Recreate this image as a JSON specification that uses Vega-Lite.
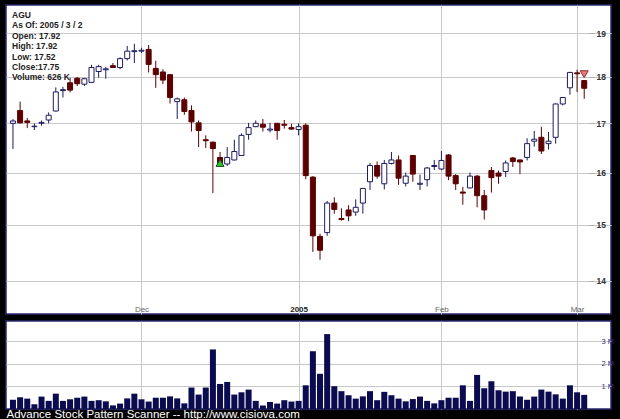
{
  "$schema": "https://vega.github.io/schema/vega-lite/v6.json",
  "background": "black",
  "padding": {"left": 5, "top": 4, "right": 12, "bottom": 6},
  "spacing": 5,
  "config": {
    "view": {"fill": "white", "stroke": "#28286e", "strokeWidth": 1.5},
    "font": "Liberation Sans"
  },
  "datasets": {
    "ohlc": [
      {"d": "2004-11-04", "i": 0, "o": 17.00, "h": 17.09, "l": 16.47, "c": 17.05, "v": 410000},
      {"d": "2004-11-05", "i": 1, "o": 17.27, "h": 17.46, "l": 17.00, "c": 17.01, "v": 520000},
      {"d": "2004-11-08", "i": 2, "o": 17.05, "h": 17.11, "l": 16.90, "c": 17.02, "v": 460000},
      {"d": "2004-11-09", "i": 3, "o": 16.93, "h": 17.00, "l": 16.86, "c": 16.94, "v": 210000},
      {"d": "2004-11-10", "i": 4, "o": 17.00, "h": 17.06, "l": 16.95, "c": 17.02, "v": 550000},
      {"d": "2004-11-11", "i": 5, "o": 17.07, "h": 17.23, "l": 17.00, "c": 17.17, "v": 360000},
      {"d": "2004-11-12", "i": 6, "o": 17.26, "h": 17.77, "l": 17.25, "c": 17.67, "v": 680000},
      {"d": "2004-11-15", "i": 7, "o": 17.70, "h": 17.78, "l": 17.55, "c": 17.72, "v": 360000},
      {"d": "2004-11-16", "i": 8, "o": 17.87, "h": 17.98, "l": 17.66, "c": 17.71, "v": 430000},
      {"d": "2004-11-17", "i": 9, "o": 17.97, "h": 18.00, "l": 17.80, "c": 17.85, "v": 500000},
      {"d": "2004-11-18", "i": 10, "o": 17.84, "h": 17.98, "l": 17.80, "c": 17.96, "v": 550000},
      {"d": "2004-11-19", "i": 11, "o": 17.88, "h": 18.27, "l": 17.87, "c": 18.21, "v": 360000},
      {"d": "2004-11-22", "i": 12, "o": 18.12, "h": 18.27, "l": 17.98, "c": 18.23, "v": 390000},
      {"d": "2004-11-23", "i": 13, "o": 18.16, "h": 18.22, "l": 17.96, "c": 18.18, "v": 340000},
      {"d": "2004-11-24", "i": 14, "o": 18.25, "h": 18.31, "l": 18.20, "c": 18.21, "v": 160000},
      {"d": "2004-11-26", "i": 15, "o": 18.21, "h": 18.44, "l": 18.17, "c": 18.41, "v": 240000},
      {"d": "2004-11-29", "i": 16, "o": 18.41, "h": 18.70, "l": 18.37, "c": 18.58, "v": 470000},
      {"d": "2004-11-30", "i": 17, "o": 18.57, "h": 18.75, "l": 18.31, "c": 18.59, "v": 680000},
      {"d": "2004-12-01", "i": 18, "o": 18.58, "h": 18.66, "l": 18.54, "c": 18.60, "v": 430000},
      {"d": "2004-12-02", "i": 19, "o": 18.62, "h": 18.72, "l": 18.10, "c": 18.28, "v": 330000},
      {"d": "2004-12-03", "i": 20, "o": 18.19, "h": 18.36, "l": 17.76, "c": 18.05, "v": 500000},
      {"d": "2004-12-06", "i": 21, "o": 18.11, "h": 18.17, "l": 17.84, "c": 17.93, "v": 500000},
      {"d": "2004-12-07", "i": 22, "o": 18.05, "h": 18.06, "l": 17.42, "c": 17.55, "v": 560000},
      {"d": "2004-12-08", "i": 23, "o": 17.46, "h": 17.55, "l": 17.09, "c": 17.52, "v": 470000},
      {"d": "2004-12-09", "i": 24, "o": 17.50, "h": 17.55, "l": 17.18, "c": 17.25, "v": 250000},
      {"d": "2004-12-10", "i": 25, "o": 17.27, "h": 17.38, "l": 16.83, "c": 17.03, "v": 950000},
      {"d": "2004-12-13", "i": 26, "o": 17.01, "h": 17.06, "l": 16.51, "c": 16.85, "v": 640000},
      {"d": "2004-12-14", "i": 27, "o": 16.66, "h": 16.75, "l": 16.49, "c": 16.64, "v": 950000},
      {"d": "2004-12-15", "i": 28, "o": 16.61, "h": 16.62, "l": 15.60, "c": 16.48, "v": 2640000},
      {"d": "2004-12-16", "i": 29, "o": 16.30, "h": 16.41, "l": 16.16, "c": 16.18, "v": 1110000},
      {"d": "2004-12-17", "i": 30, "o": 16.17, "h": 16.51, "l": 16.13, "c": 16.30, "v": 1200000},
      {"d": "2004-12-20", "i": 31, "o": 16.25, "h": 16.66, "l": 16.24, "c": 16.42, "v": 640000},
      {"d": "2004-12-21", "i": 32, "o": 16.34, "h": 16.79, "l": 16.33, "c": 16.75, "v": 740000},
      {"d": "2004-12-22", "i": 33, "o": 16.77, "h": 17.01, "l": 16.66, "c": 16.91, "v": 860000},
      {"d": "2004-12-23", "i": 34, "o": 16.93, "h": 17.06, "l": 16.92, "c": 17.00, "v": 360000},
      {"d": "2004-12-27", "i": 35, "o": 16.98, "h": 17.09, "l": 16.83, "c": 16.92, "v": 160000},
      {"d": "2004-12-28", "i": 36, "o": 16.86, "h": 17.01, "l": 16.81, "c": 16.88, "v": 310000},
      {"d": "2004-12-29", "i": 37, "o": 17.00, "h": 17.01, "l": 16.66, "c": 16.85, "v": 240000},
      {"d": "2004-12-30", "i": 38, "o": 16.98, "h": 17.07, "l": 16.89, "c": 16.96, "v": 390000},
      {"d": "2004-12-31", "i": 39, "o": 16.91, "h": 16.99, "l": 16.87, "c": 16.88, "v": 330000},
      {"d": "2005-01-03", "i": 40, "o": 16.87, "h": 17.00, "l": 16.75, "c": 16.93, "v": 360000},
      {"d": "2005-01-04", "i": 41, "o": 16.96, "h": 17.00, "l": 15.87, "c": 15.94, "v": 1050000},
      {"d": "2005-01-05", "i": 42, "o": 15.91, "h": 15.93, "l": 14.51, "c": 14.80, "v": 2560000},
      {"d": "2005-01-06", "i": 43, "o": 14.79, "h": 14.84, "l": 14.37, "c": 14.54, "v": 1560000},
      {"d": "2005-01-07", "i": 44, "o": 14.86, "h": 15.45, "l": 14.80, "c": 15.41, "v": 3320000},
      {"d": "2005-01-10", "i": 45, "o": 15.41, "h": 15.52, "l": 15.21, "c": 15.29, "v": 1010000},
      {"d": "2005-01-11", "i": 46, "o": 15.12, "h": 15.31, "l": 15.08, "c": 15.10, "v": 790000},
      {"d": "2005-01-12", "i": 47, "o": 15.28, "h": 15.37, "l": 15.07, "c": 15.17, "v": 610000},
      {"d": "2005-01-13", "i": 48, "o": 15.24, "h": 15.48, "l": 15.17, "c": 15.33, "v": 460000},
      {"d": "2005-01-14", "i": 49, "o": 15.41, "h": 15.70, "l": 15.21, "c": 15.69, "v": 560000},
      {"d": "2005-01-18", "i": 50, "o": 15.82, "h": 16.19, "l": 15.66, "c": 16.14, "v": 790000},
      {"d": "2005-01-19", "i": 51, "o": 16.14, "h": 16.22, "l": 15.88, "c": 15.93, "v": 390000},
      {"d": "2005-01-20", "i": 52, "o": 15.78, "h": 16.25, "l": 15.67, "c": 16.18, "v": 760000},
      {"d": "2005-01-21", "i": 53, "o": 16.18, "h": 16.41, "l": 16.16, "c": 16.25, "v": 610000},
      {"d": "2005-01-24", "i": 54, "o": 16.25, "h": 16.34, "l": 15.76, "c": 15.89, "v": 460000},
      {"d": "2005-01-25", "i": 55, "o": 15.79, "h": 16.00, "l": 15.73, "c": 15.93, "v": 340000},
      {"d": "2005-01-26", "i": 56, "o": 16.34, "h": 16.35, "l": 15.82, "c": 15.97, "v": 440000},
      {"d": "2005-01-27", "i": 57, "o": 15.77, "h": 15.96, "l": 15.66, "c": 15.79, "v": 550000},
      {"d": "2005-01-28", "i": 58, "o": 15.86, "h": 16.11, "l": 15.73, "c": 16.09, "v": 360000},
      {"d": "2005-01-31", "i": 59, "o": 16.12, "h": 16.25, "l": 16.05, "c": 16.14, "v": 250000},
      {"d": "2005-02-01", "i": 60, "o": 16.07, "h": 16.43, "l": 16.05, "c": 16.24, "v": 390000},
      {"d": "2005-02-02", "i": 61, "o": 16.35, "h": 16.37, "l": 15.85, "c": 15.93, "v": 500000},
      {"d": "2005-02-03", "i": 62, "o": 15.94, "h": 15.97, "l": 15.66, "c": 15.78, "v": 500000},
      {"d": "2005-02-04", "i": 63, "o": 15.62, "h": 15.72, "l": 15.38, "c": 15.60, "v": 1050000},
      {"d": "2005-02-07", "i": 64, "o": 15.70, "h": 16.00, "l": 15.69, "c": 15.93, "v": 360000},
      {"d": "2005-02-08", "i": 65, "o": 15.93, "h": 15.95, "l": 15.33, "c": 15.55, "v": 1510000},
      {"d": "2005-02-09", "i": 66, "o": 15.55, "h": 15.66, "l": 15.10, "c": 15.28, "v": 920000},
      {"d": "2005-02-10", "i": 67, "o": 16.04, "h": 16.11, "l": 15.61, "c": 15.90, "v": 1230000},
      {"d": "2005-02-11", "i": 68, "o": 15.99, "h": 16.04, "l": 15.78, "c": 15.93, "v": 830000},
      {"d": "2005-02-14", "i": 69, "o": 16.02, "h": 16.24, "l": 15.91, "c": 16.19, "v": 770000},
      {"d": "2005-02-15", "i": 70, "o": 16.29, "h": 16.31, "l": 16.11, "c": 16.22, "v": 790000},
      {"d": "2005-02-16", "i": 71, "o": 16.25, "h": 16.26, "l": 15.97, "c": 16.21, "v": 550000},
      {"d": "2005-02-17", "i": 72, "o": 16.30, "h": 16.69, "l": 16.24, "c": 16.58, "v": 410000},
      {"d": "2005-02-18", "i": 73, "o": 16.63, "h": 16.84, "l": 16.52, "c": 16.67, "v": 550000},
      {"d": "2005-02-22", "i": 74, "o": 16.71, "h": 16.93, "l": 16.37, "c": 16.43, "v": 860000},
      {"d": "2005-02-23", "i": 75, "o": 16.58, "h": 16.82, "l": 16.46, "c": 16.63, "v": 770000},
      {"d": "2005-02-24", "i": 76, "o": 16.71, "h": 17.42, "l": 16.58, "c": 17.41, "v": 650000},
      {"d": "2005-02-25", "i": 77, "o": 17.41, "h": 17.56, "l": 17.38, "c": 17.55, "v": 460000},
      {"d": "2005-02-28", "i": 78, "o": 17.76, "h": 18.11, "l": 17.61, "c": 18.10, "v": 1050000},
      {"d": "2005-03-01", "i": 79, "o": 18.09, "h": 18.16, "l": 17.67, "c": 18.07, "v": 740000},
      {"d": "2005-03-02", "i": 80, "o": 17.92, "h": 17.92, "l": 17.52, "c": 17.75, "v": 626000}
    ]
  },
  "vconcat": [
    {
      "width": 605,
      "height": 309,
      "title": {
        "text": ["AGU", "As Of: 2005 / 3 / 2", "Open: 17.92", "High: 17.92", "Low: 17.52", "Close:17.75", "Volume: 626 K"],
        "anchor": "start",
        "frame": "group",
        "orient": "top",
        "baseline": "top",
        "offset": -77,
        "dx": 6,
        "font": "Liberation Sans",
        "fontSize": 8.5,
        "fontWeight": "bold",
        "color": "#222222",
        "lineHeight": 10.45
      },
      "data": {"name": "ohlc"},
      "encoding": {
        "x": {
          "field": "i",
          "type": "quantitative",
          "scale": {"domain": [-0.2754, 83.05], "nice": false, "zero": false},
          "axis": {
            "values": [18, 40, 60, 79],
            "labelExpr": "datum.value == 18 ? 'Dec' : datum.value == 40 ? '2005' : datum.value == 60 ? 'Feb' : 'Mar'",
            "grid": true,
            "gridColor": "#c8c8c8",
            "domain": false,
            "ticks": false,
            "tickSize": 0,
            "labelPadding": 0,
            "labelBaseline": "alphabetic",
            "offset": -3,
            "labelFontSize": 8,
            "labelFont": "Liberation Sans",
            "labelColor": {"condition": {"test": "datum.value == 40", "value": "#222222"}, "value": "#666666"},
            "labelFontWeight": {"condition": {"test": "datum.value == 40", "value": "bold"}, "value": "normal"},
            "labelFlush": false,
            "labelOverlap": false,
            "title": null
          }
        },
        "y": {
          "field": "l",
          "type": "quantitative",
          "scale": {"type": "log", "domain": [13.442, 19.667], "nice": false, "zero": false},
          "axis": {
            "orient": "right",
            "values": [14, 15, 16, 17, 18, 19],
            "format": "d",
            "grid": true,
            "gridColor": "#c8c8c8",
            "domain": false,
            "ticks": true,
            "tickSize": 5,
            "tickColor": "#aaaaaa",
            "labelPadding": 2,
            "offset": -22,
            "labelFont": "Liberation Sans",
            "labelFontSize": 8.5,
            "labelFontWeight": "bold",
            "labelColor": "#333333",
            "labelFlush": false,
            "labelOverlap": false,
            "title": null
          }
        }
      },
      "layer": [
        {
          "mark": {"type": "rule", "strokeWidth": 1},
          "encoding": {
            "y2": {"field": "h"},
            "color": {"condition": {"test": "datum.c >= datum.o", "value": "#1c1c60"}, "value": "#5c0000"}
          }
        },
        {
          "mark": {"type": "bar", "size": 5, "strokeWidth": 1},
          "encoding": {
            "y": {"field": "o", "type": "quantitative", "title": null},
            "y2": {"field": "c"},
            "fill": {"condition": {"test": "datum.c >= datum.o", "value": "#ffffff"}, "value": "#5c0000"},
            "stroke": {"condition": {"test": "datum.c >= datum.o", "value": "#1c1c60"}, "value": "#5c0000"}
          }
        },
        {
          "data": {"values": [{"i": 29, "p": 16.19}]},
          "mark": {"type": "point", "shape": "triangle-up", "size": 64, "filled": true, "fill": "#2fc02f", "stroke": "#1a4d1a", "strokeWidth": 1, "opacity": 1},
          "encoding": {
            "y": {"field": "p", "type": "quantitative", "title": null}
          }
        },
        {
          "data": {"values": [{"i": 80, "p": 18.06}]},
          "mark": {"type": "point", "shape": "triangle-down", "size": 64, "filled": true, "fill": "#f07a7a", "stroke": "#8a2a2a", "strokeWidth": 1, "opacity": 1},
          "encoding": {
            "y": {"field": "p", "type": "quantitative", "title": null}
          }
        }
      ]
    },
    {
      "width": 605,
      "height": 88,
      "data": {"name": "ohlc"},
      "mark": {"type": "bar", "size": 6, "color": "#0b0b50"},
      "encoding": {
        "x": {
          "field": "i",
          "type": "quantitative",
          "scale": {"domain": [-0.2754, 83.05], "nice": false, "zero": false},
          "axis": {
            "values": [18, 40, 60, 79],
            "grid": true,
            "gridColor": "#c8c8c8",
            "labels": false,
            "domain": false,
            "ticks": false,
            "title": "Advance Stock Pattern Scanner -- http://www.cisiova.com",
            "titleFont": "Liberation Sans",
            "titleFontSize": 11.5,
            "titleFontWeight": "normal",
            "titleColor": "#ffffff",
            "titleX": 0,
            "titleY": 8,
            "titleAlign": "left",
            "titleAnchor": "start",
            "titleBaseline": "alphabetic"
          }
        },
        "y": {
          "field": "v",
          "type": "quantitative",
          "scale": {"domain": [0, 3900000], "nice": false},
          "axis": {
            "orient": "right",
            "values": [1000000, 2000000, 3000000],
            "labelExpr": "(datum.value / 1000000) + ' M'",
            "grid": true,
            "gridColor": "#c8c8c8",
            "domain": false,
            "ticks": false,
            "labelPadding": 7,
            "offset": -17,
            "labelFont": "Liberation Sans",
            "labelFontSize": 7.5,
            "labelColor": "#30307a",
            "labelFlush": false,
            "title": null
          }
        }
      }
    }
  ]
}
